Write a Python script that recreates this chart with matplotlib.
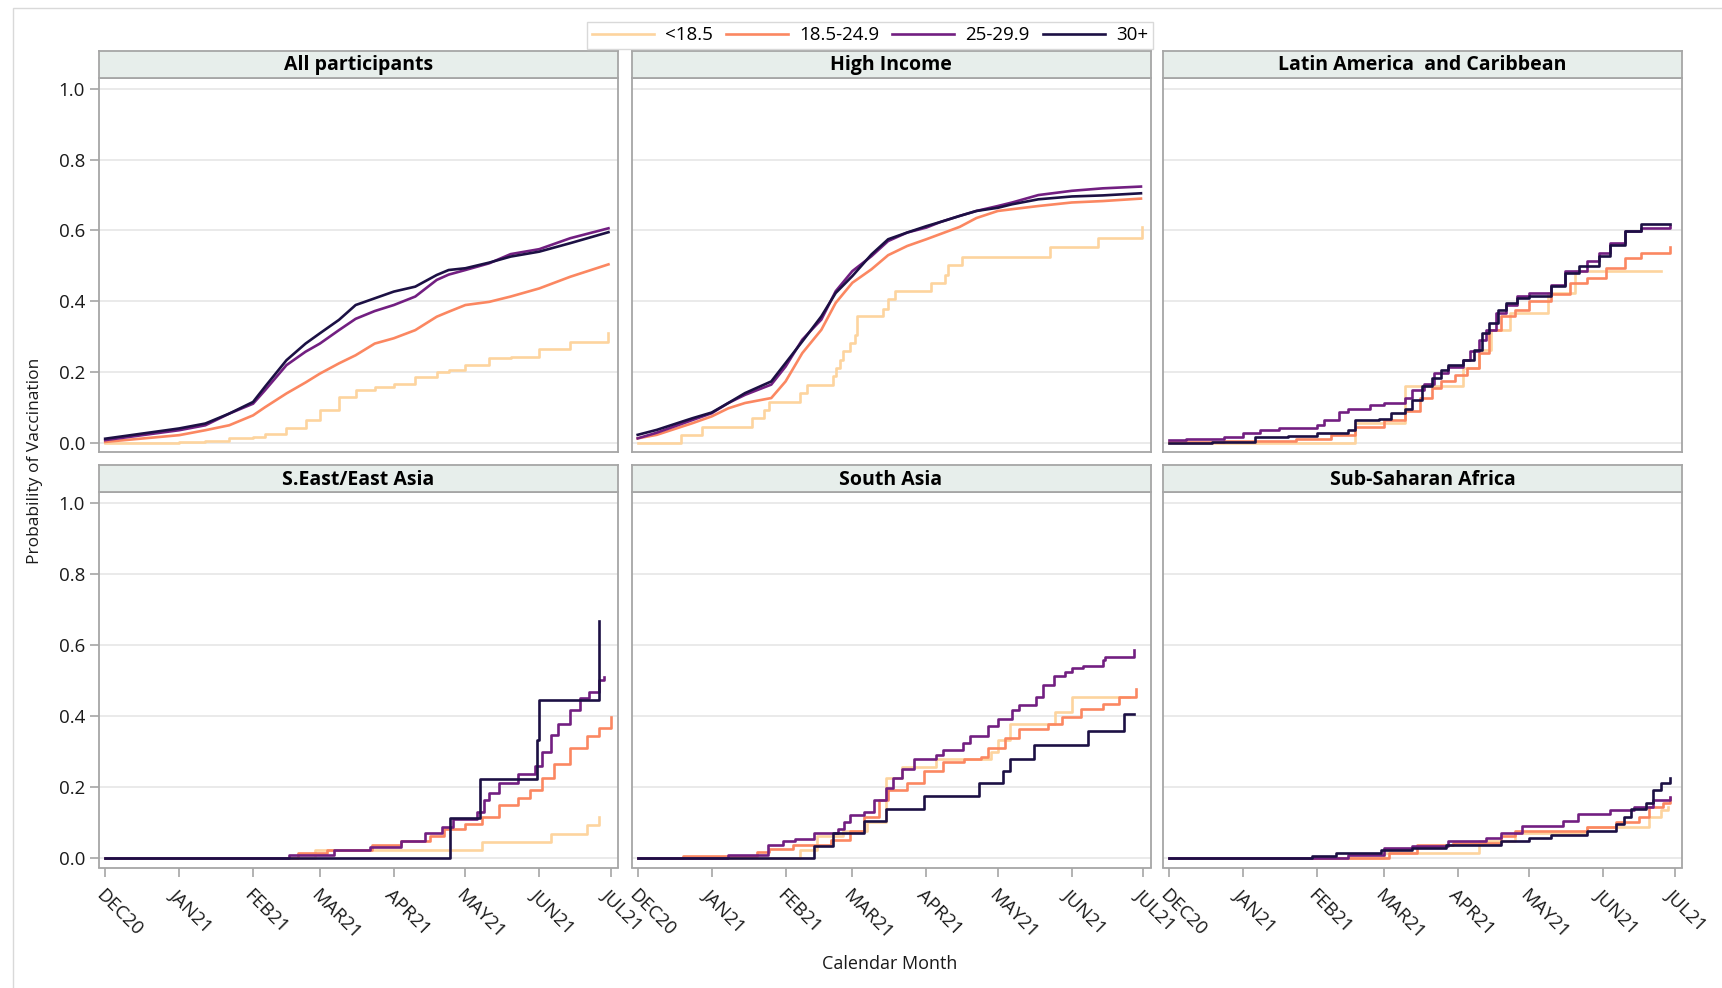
import numpy as np
import matplotlib.pyplot as plt
from matplotlib.patches import Rectangle

plt.rcParams['font.family'] = ['Open Sans', 'DejaVu Sans']

groups = ['<18.5', '18.5-24.9', '25-29.9', '30+']
colors = ['#FDD49E', '#FB8761', '#721F81', '#1C1044']
month_days = [0, 31, 62, 90, 121, 151, 182, 212]
month_labels = ['DEC20', 'JAN21', 'FEB21', 'MAR21', 'APR21', 'MAY21', 'JUN21', 'JUL21']

# days since 1 Dec 2020, probability of vaccination

# All participants
ap_days = [0, 31, 42, 52, 62, 67, 76, 84, 90, 98, 105, 113, 121, 130, 139, 144, 151, 161, 170, 182, 195, 211]
ap_lt185 = [0.0, 0.002, 0.005, 0.012, 0.016, 0.025, 0.04, 0.063, 0.092, 0.129, 0.148, 0.158, 0.167, 0.186, 0.2,
            0.205, 0.219, 0.238, 0.243, 0.266, 0.285, 0.31]
ap_185 = [0.002, 0.021, 0.035, 0.049, 0.077, 0.1, 0.139, 0.17, 0.195, 0.224, 0.247, 0.28, 0.295, 0.318, 0.356,
          0.37, 0.389, 0.398, 0.413, 0.436, 0.469, 0.504]
ap_25 = [0.007, 0.035, 0.049, 0.082, 0.11, 0.148, 0.219, 0.257, 0.28, 0.318, 0.35, 0.372, 0.389, 0.413, 0.46,
         0.475, 0.488, 0.507, 0.533, 0.547, 0.578, 0.606]
ap_30 = [0.011, 0.04, 0.054, 0.082, 0.115, 0.158, 0.233, 0.28, 0.309, 0.347, 0.389, 0.408, 0.427, 0.441, 0.474,
         0.488, 0.493, 0.509, 0.526, 0.54, 0.564, 0.595]

# High Income
hi_days = [0, 8, 23, 31, 38, 45, 56, 62, 69, 77, 83, 90, 98, 105, 113, 121, 127, 135, 142, 151, 157, 168, 182, 195, 211]
hi_185 = [0.012, 0.022, 0.055, 0.074, 0.097, 0.112, 0.126, 0.173, 0.253, 0.319, 0.395, 0.452, 0.49, 0.53, 0.556,
          0.575, 0.59, 0.61, 0.635, 0.655, 0.66, 0.669, 0.679, 0.683, 0.69]
hi_25 = [0.012, 0.028, 0.064, 0.083, 0.112, 0.135, 0.164, 0.215, 0.291, 0.348, 0.428, 0.485, 0.527, 0.57, 0.594,
         0.608, 0.624, 0.641, 0.655, 0.669, 0.679, 0.70, 0.712, 0.719, 0.724]
hi_30 = [0.022, 0.036, 0.069, 0.085, 0.112, 0.14, 0.173, 0.225, 0.286, 0.357, 0.423, 0.471, 0.532, 0.575, 0.594,
         0.612, 0.624, 0.641, 0.655, 0.664, 0.674, 0.688, 0.696, 0.699, 0.705]
hi_lt185_d = [0, 18, 27, 48, 53, 55, 68, 71, 82, 83, 85, 86, 89, 91, 92, 103, 105, 108, 123, 129, 130, 136, 173, 193, 211.5]
hi_lt185 = [0, 0.022, 0.045, 0.069, 0.093, 0.116, 0.14, 0.164, 0.187, 0.21, 0.234, 0.258, 0.282, 0.305, 0.357,
            0.378, 0.405, 0.428, 0.452, 0.475, 0.501, 0.526, 0.554, 0.579, 0.61]

# Latin America and Caribbean
la_lt185_d = [0, 78, 99, 123, 130, 135, 143, 159, 170, 206]
la_lt185 = [0, 0.055, 0.159, 0.211, 0.263, 0.319, 0.367, 0.423, 0.485, 0.485]
la_185_d = [0, 23, 53, 68, 78, 90, 99, 105, 110, 114, 120, 125, 130, 134, 139, 145, 151, 160, 168, 175, 183, 191, 198, 210]
la_185 = [0.003, 0.005, 0.009, 0.021, 0.045, 0.064, 0.088, 0.126, 0.154, 0.173, 0.192, 0.211, 0.253, 0.319,
          0.357, 0.376, 0.4, 0.419, 0.452, 0.466, 0.494, 0.523, 0.537, 0.554]
la_25_d = [0, 7, 23, 31, 38, 46, 62, 65, 71, 75, 84, 90, 99, 102, 107, 111, 117, 123, 126, 130, 133, 137, 141,
           146, 151, 160, 166, 175, 180, 185, 191, 198, 210]
la_25 = [0.008, 0.011, 0.016, 0.026, 0.035, 0.042, 0.049, 0.063, 0.087, 0.096, 0.106, 0.113, 0.125, 0.148, 0.167,
         0.196, 0.215, 0.234, 0.258, 0.291, 0.319, 0.366, 0.39, 0.414, 0.423, 0.447, 0.485, 0.513, 0.537, 0.565,
         0.598, 0.608, 0.612]
la_30_d = [0, 18, 36, 50, 62, 75, 78, 88, 93, 99, 102, 106, 110, 114, 117, 123, 128, 131, 134, 138, 141, 146,
           151, 160, 166, 172, 180, 185, 191, 198, 210]
la_30 = [0, 0.003, 0.015, 0.018, 0.026, 0.035, 0.063, 0.068, 0.083, 0.096, 0.12, 0.159, 0.182, 0.206, 0.22, 0.234,
         0.263, 0.31, 0.338, 0.376, 0.394, 0.409, 0.414, 0.442, 0.48, 0.498, 0.527, 0.56, 0.597, 0.618, 0.618]

# S.East/East Asia
se_lt185_d = [0, 88, 158, 187, 202, 207]
se_lt185 = [0, 0.021, 0.044, 0.067, 0.092, 0.114]
se_185_d = [0, 81, 93, 112, 124, 136, 142, 151, 158, 165, 173, 178, 183, 188, 195, 202, 207, 212]
se_185 = [0, 0.012, 0.021, 0.036, 0.046, 0.06, 0.08, 0.094, 0.114, 0.148, 0.167, 0.191, 0.225, 0.264, 0.308,
          0.342, 0.366, 0.396]
se_25_d = [0, 77, 96, 111, 124, 134, 141, 146, 156, 159, 161, 165, 173, 180, 183, 187, 190, 195, 199, 203, 207, 209]
se_25 = [0, 0.007, 0.021, 0.031, 0.046, 0.07, 0.085, 0.109, 0.128, 0.162, 0.182, 0.211, 0.235, 0.259, 0.298,
         0.347, 0.376, 0.415, 0.449, 0.468, 0.502, 0.51]
se_30_d = [0, 144.5, 157, 181, 182, 207]
se_30 = [0, 0.112, 0.221, 0.332, 0.444, 0.668]

# South Asia
sa_lt185_d = [0, 68, 75, 86, 96, 104, 111, 125, 148, 151, 156, 175, 182, 206]
sa_lt185 = [0, 0.021, 0.06, 0.075, 0.099, 0.225, 0.255, 0.279, 0.298, 0.332, 0.376, 0.41, 0.452, 0.452]
sa_185_d = [0, 19, 50, 55, 65, 81, 89, 95, 101, 105, 113, 120, 128, 137, 144, 147, 154, 160, 172, 178, 186, 195, 202, 209]
sa_185 = [0, 0.005, 0.017, 0.024, 0.036, 0.05, 0.075, 0.114, 0.162, 0.191, 0.211, 0.245, 0.269, 0.279, 0.284,
          0.308, 0.337, 0.362, 0.376, 0.396, 0.42, 0.434, 0.454, 0.475]
sa_25_d = [0, 38, 54.5, 61, 66, 74, 84, 86.5, 89, 95, 99, 104, 107, 111, 116, 125, 128, 136.5, 139.5, 147, 151,
           157, 160, 167, 170, 174.5, 179, 182, 186.5, 195, 196, 208]
sa_25 = [0, 0.007, 0.036, 0.046, 0.052, 0.07, 0.08, 0.099, 0.119, 0.128, 0.162, 0.196, 0.225, 0.25, 0.279, 0.289,
         0.303, 0.323, 0.342, 0.371, 0.391, 0.415, 0.43, 0.454, 0.488, 0.512, 0.522, 0.536, 0.541, 0.556, 0.566, 0.585]
sa_30_d = [0, 74, 82, 95, 104, 120, 143, 153, 156, 166, 189, 204, 208]
sa_30 = [0, 0.034, 0.07, 0.104, 0.138, 0.175, 0.211, 0.245, 0.279, 0.318, 0.357, 0.405, 0.405]

# Sub-Saharan Africa
ss_lt185_d = [0, 90, 130, 145, 175, 201, 206, 209]
ss_lt185 = [0, 0.012, 0.046, 0.07, 0.085, 0.114, 0.133, 0.143]
ss_185_d = [0, 92, 104, 119, 139, 145, 175, 187.5, 197, 201, 207, 210]
ss_185 = [0, 0.012, 0.036, 0.041, 0.06, 0.075, 0.085, 0.099, 0.114, 0.143, 0.153, 0.167]
ss_25_d = [0, 75, 90, 102, 117, 133, 139, 148, 165, 171.5, 185, 195, 203, 210]
ss_25 = [0, 0.007, 0.026, 0.034, 0.046, 0.055, 0.07, 0.089, 0.104, 0.123, 0.133, 0.143, 0.162, 0.172]
ss_30_d = [0, 60, 70, 89, 102, 116, 139, 151, 160, 175, 187.5, 190.5, 193.5, 200, 203, 206, 210]
ss_30 = [0, 0.005, 0.012, 0.021, 0.026, 0.036, 0.048, 0.055, 0.065, 0.075, 0.094, 0.114, 0.138, 0.153, 0.191,
         0.211, 0.225]

panels = [
    ('All participants', [(ap_days, ap_lt185), (ap_days, ap_185), (ap_days, ap_25), (ap_days, ap_30)]),
    ('High Income', [(hi_lt185_d, hi_lt185), (hi_days, hi_185), (hi_days, hi_25), (hi_days, hi_30)]),
    ('Latin America  and Caribbean', [(la_lt185_d, la_lt185), (la_185_d, la_185), (la_25_d, la_25), (la_30_d, la_30)]),
    ('S.East/East Asia', [(se_lt185_d, se_lt185), (se_185_d, se_185), (se_25_d, se_25), (se_30_d, se_30)]),
    ('South Asia', [(sa_lt185_d, sa_lt185), (sa_185_d, sa_185), (sa_25_d, sa_25), (sa_30_d, sa_30)]),
    ('Sub-Saharan Africa', [(ss_lt185_d, ss_lt185), (ss_185_d, ss_185), (ss_25_d, ss_25), (ss_30_d, ss_30)]),
]
smooth_panels = [0, 1]  # dense KM curves drawn as plain lines

W, H = 1722, 988
fig = plt.figure(figsize=(W / 100, H / 100), dpi=100)

col_left = [99, 631.5, 1163]
col_w = 519
row_plot = [(78, 452.5), (492, 867.5)]
row_head = [50.5, 465.5]
frame_col = '#a6a6a6'

handles = []
for i, (title, series) in enumerate(panels):
    r, c = divmod(i, 3)
    top, bot = row_plot[r]
    ax = fig.add_axes([col_left[c] / W, 1 - bot / H, col_w / W, (bot - top) / H])
    hax = fig.add_axes([col_left[c] / W, 1 - top / H, col_w / W, (top - row_head[r]) / H])

    for k, (d, v) in enumerate(series):
        ds = 'default' if (i in smooth_panels and k > 0) else 'steps-post'
        ln, = ax.plot(d, v, color=colors[k], lw=1.9, drawstyle=ds, label=groups[k])
        if i == 0:
            handles.append(ln)

    ax.set_xlim(-2.6, 215)
    ax.set_ylim(-0.028, 1.031)
    ax.set_yticks([0, 0.2, 0.4, 0.6, 0.8, 1.0])
    ax.set_yticklabels(['0.0', '0.2', '0.4', '0.6', '0.8', '1.0'])
    ax.set_xticks(month_days)
    ax.set_xticklabels(month_labels, rotation=-45, ha='left', va='top', rotation_mode='anchor')
    ax.grid(axis='y', color='#e8e8e8', lw=1.3)
    ax.set_axisbelow(True)
    for s in ax.spines.values():
        s.set_color(frame_col)
        s.set_linewidth(1.3)
    ax.tick_params(axis='both', direction='out', length=6.5, width=1.2, color=frame_col,
                   labelsize=13.5, labelcolor='#1a1a1a')
    ax.tick_params(axis='x', pad=7)
    if r == 0:
        ax.tick_params(axis='x', bottom=False, labelbottom=False)
    if c > 0:
        ax.tick_params(axis='y', left=False, labelleft=False)

    hax.set_facecolor('#E7EEEB')
    hax.set_xticks([])
    hax.set_yticks([])
    for s in hax.spines.values():
        s.set_color(frame_col)
        s.set_linewidth(1.3)
    hax.text(0.5, 0.47, title, ha='center', va='center', fontsize=14, fontweight='bold',
             transform=hax.transAxes)

fig.legend(handles, groups, loc='center', bbox_to_anchor=(870 / W, 1 - 35.5 / H), ncol=4,
           frameon=True, fancybox=False, edgecolor='#d0d0d0', fontsize=13.5, handlelength=3.3,
           columnspacing=0.7, handletextpad=0.6, borderpad=0.25)

fig.text(35 / W, 1 - 461 / H, 'Probability of Vaccination', rotation=90, ha='center', va='center',
         fontsize=12.5, color='#1a1a1a')
fig.text(890 / W, 1 - 964 / H, 'Calendar Month', ha='center', va='center', fontsize=13, color='#1a1a1a')

fig.add_artist(Rectangle((13 / W, -0.01), 1.1, 1 - 8 / H + 0.01, transform=fig.transFigure,
                         fill=False, edgecolor='#d9d9d9', lw=1))

fig.savefig('out.png', dpi=100)
